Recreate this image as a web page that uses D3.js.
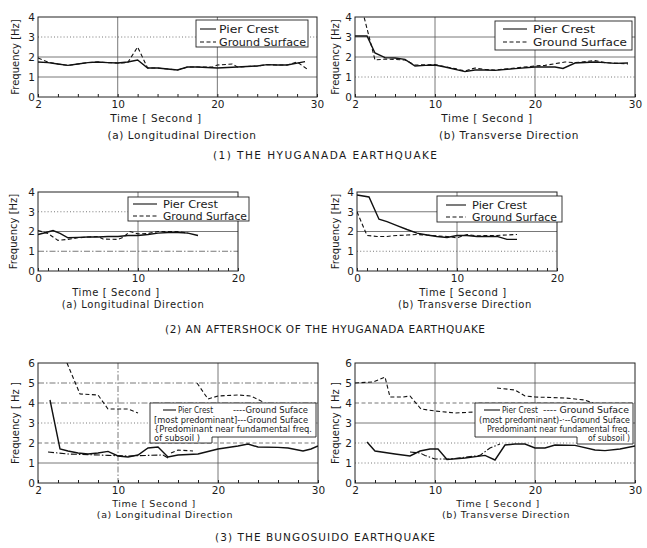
<!DOCTYPE html>
<html><head><meta charset="utf-8">
<script src="https://cdn.jsdelivr.net/npm/d3@7"></script>
<style>
body{margin:0;background:#fff}
svg{display:block}
text{font-family:"DejaVu Sans",sans-serif;fill:#1a1a1a}
</style>
</head><body>
<svg id="c" width="647" height="548"></svg>
<script>
// ---------------- DATA ----------------
const sectionTitles = ["(1) THE HYUGANADA EARTHQUAKE", "(2) AN AFTERSHOCK OF THE HYUGANADA EARTHQUAKE", "(3) THE BUNGOSUIDO EARTHQUAKE"];
const captions = ["(a) Longitudinal Direction", "(b) Transverse Direction"];
const yLabels = ["Frequency [Hz]", "Frequency [ Hz ]"];
const xLabel = "Time [ Second ]";
const seriesNames = ["Pier Crest", "Ground Surface"];

const ticks30 = [2, 10, 20, 30];
const ticks20 = [0, 10, 20];
const yTicks4 = [0, 1, 2, 3, 4];
const yTicks6 = [0, 1, 2, 3, 4, 5, 6];

// (1) Hyuganada — longitudinal
const hyuLongPier = [[2,1.75],[3,1.72],[4,1.65],[5,1.58],[6,1.65],[7,1.72],[8,1.75],[9,1.72],[10,1.7],[11,1.75],[12,1.85],[13,1.45],[14,1.45],[15,1.4],[16,1.35],[17,1.5],[18,1.5],[20,1.45],[22,1.5],[24,1.55],[25,1.62],[26,1.6],[27,1.6],[28.8,1.77]];
const hyuLongGround = [[2,1.95],[3,1.75],[4,1.65],[5,1.58],[6,1.65],[7,1.72],[8,1.75],[9,1.72],[10,1.7],[11,1.72],[12,2.5],[13,1.45],[14,1.45],[15,1.4],[16,1.35],[17,1.5],[18,1.5],[19.5,1.5],[20,1.6],[21.5,1.65],[22,1.5],[24,1.55],[25,1.62],[26,1.6],[27,1.6],[28,1.75],[29,1.4]];
// (1) Hyuganada — transverse
const hyuTransPier = [[2,3.05],[3.2,3.05],[4,2.2],[5,1.97],[6,1.95],[7,1.88],[8,1.55],[9,1.58],[10,1.6],[11,1.5],[13,1.27],[14,1.35],[15,1.35],[16,1.33],[18,1.42],[20,1.5],[22,1.5],[22.8,1.43],[24,1.7],[26,1.75],[27,1.72],[28,1.68],[29.3,1.7]];
const hyuTransGround = [[2.6,4.6],[4,1.85],[5,1.9],[6,1.88],[7,1.85],[8,1.6],[10,1.62],[12,1.42],[13,1.3],[14,1.45],[15,1.38],[16,1.35],[18,1.45],[20,1.55],[21,1.58],[23,1.75],[24,1.72],[26,1.82],[27,1.72],[29.3,1.65]];
// (2) Aftershock — longitudinal
const aftLongPier = [[0,1.85],[0.8,1.95],[1.5,2.05],[2.2,1.9],[3,1.68],[4,1.7],[5,1.72],[6,1.72],[7,1.75],[8,1.75],[9,1.8],[10,1.8],[11,1.85],[12,1.92],[13,1.95],[14,1.95],[15,1.92],[16,1.8]];
const aftLongGround = [[0,2.05],[1,1.9],[2,1.55],[3,1.6],[4,1.68],[5,1.72],[6,1.75],[6.5,1.62],[8,1.6],[8.5,1.7],[9.2,2.0],[10,1.88],[11,1.9],[12,2.0],[14,2.0],[15,1.92]];
// (2) Aftershock — transverse
const aftTransPier = [[0,3.85],[1.2,3.75],[2.2,2.62],[3,2.5],[4,2.3],[5,2.1],[6,1.92],[7,1.82],[8,1.75],[9,1.7],[10,1.8],[11,1.8],[12,1.75],[14,1.75],[15,1.6],[16,1.6]];
const aftTransGround = [[0,3.0],[1,1.8],[2,1.75],[3,1.75],[4,1.8],[5,1.82],[6,1.85],[7,1.82],[8,1.78],[9,1.75],[10,1.68],[11,1.85],[12,1.78],[13,1.8],[14,1.8],[16,1.85]];
// (3) Bungosuido — longitudinal (null = gap)
const bunLongPier = [[3.2,4.15],[4.2,1.7],[5,1.6],[6,1.5],[7,1.45],[8,1.5],[9,1.58],[10,1.35],[11,1.3],[12,1.4],[13,1.75],[14,1.8],[15,1.3],[16,1.4],[18,1.45],[20,1.7],[22,1.85],[23,1.95],[24,1.8],[26,1.78],[27,1.75],[28.5,1.6],[29.3,1.7],[30,1.85]];
const bunLongMost = [[4.9,6.0],[6.2,4.45],[8,4.4],[9,3.7],[11,3.7],[12,3.5],null,[15.3,1.5],[16,1.65],[17.5,1.6],null,[17.9,5.0],[19,4.2],[20,4.35],[22,4.4],[23.3,4.35],[24.5,4.05]];
const bunLongFund = [[3,1.55],[5,1.45],[7,1.42],[9,1.38],[11,1.35],[13,1.38],[14.5,1.4],[15,1.25]];
// (3) Bungosuido — transverse
const bunTransPier = [[3.2,2.05],[4,1.6],[6,1.45],[7.5,1.35],[8.5,1.6],[9.5,1.7],[10.3,1.7],[11.2,1.18],[13,1.25],[15,1.38],[16,1.15],[17,1.9],[18,1.95],[19,1.95],[20,1.75],[21,1.75],[22,1.9],[24,1.88],[26,1.65],[27,1.62],[28.5,1.7],[30,1.85]];
const bunTransMost = [[2,5.0],[3.8,5.05],[5,5.3],[5.5,4.3],[6.8,4.3],[7.5,4.35],[8.6,3.7],[10,3.6],[12,3.5],[14,3.55],null,[16.2,4.75],[18,4.65],[19,4.35],[20,4.3],[23,4.25],[25,4.15],[26,3.95]];
const bunTransFund = [[7.5,1.55],[8.5,1.5],[9,1.38],[10,1.2],[11.5,1.2],[14.5,1.38],[15.5,1.75],[16.5,1.95]];

const bunLegendLong = ["Pier Crest", "----Ground Suface", "[most predominant]---Ground Suface", "{Predominant near fundamental freq.", "of subsoil )"];
const bunLegendTrans = ["Pier Crest", "---- Ground Suface", "(most predominant)-·--Ground Suface", "Predominant near fundamental freq.", "of subsoil )"];

// ---------------- STYLES / LAYOUT ----------------
const dashes = {solid: null, dash: "4,2.5", dot: "1,2.2", dashdot: "6,2,1.5,2"};
const svg = d3.select("#c");

const panels = [
  {box:[38,317,17,97], xd:[2,30], yd:[0,4], xt:ticks30, yt:yTicks4, minor:2, yl:0,
   series:[{d:hyuLongPier,s:"solid"},{d:hyuLongGround,s:"dash"}],
   hg:[[1,"solid"],[2,"solid"],[3,"dot"]], vg:[[10,"solid"],[20,"solid"]],
   leg:{x:196,y:20,w:112,h:27,lx0:200,lx1:216,tx:219,tw:[60,87],r1:29,r2:42},
   ylx:15, xlc:156, capc:182, xly:122, capy:139, fs:10.5},
  {box:[355,635,17,97], xd:[2,30], yd:[0,4], xt:ticks30, yt:yTicks4, minor:2, yl:0,
   series:[{d:hyuTransPier,s:"solid"},{d:hyuTransGround,s:"dash"}],
   hg:[[1,"dot"],[2,"solid"],[3,"solid"]], vg:[[10,"solid"],[20,"solid"]],
   leg:{x:495,y:21,w:137,h:29,lx0:503,lx1:527,tx:533,tw:[62,94],r1:29,r2:42},
   ylx:335, xlc:487, capc:509, xly:122, capy:139, fs:10.5},
  {box:[38,238,192,271], xd:[0,20], yd:[0,4], xt:ticks20, yt:yTicks4, minor:1, yl:0,
   series:[{d:aftLongPier,s:"solid"},{d:aftLongGround,s:"dash"}],
   hg:[[1,"dashdot"],[2,"solid"],[3,"dot"]], vg:[[10,"solid"]],
   leg:{x:128,y:197,w:121,h:24,lx0:133,lx1:157,tx:163,tw:[55,84],r1:204,r2:216},
   ylx:13, xlc:116, capc:133, xly:296, capy:308, fs:10},
  {box:[357,557,192,271], xd:[0,20], yd:[0,4], xt:ticks20, yt:yTicks4, minor:1, yl:0,
   series:[{d:aftTransPier,s:"solid"},{d:aftTransGround,s:"dash"}],
   hg:[[1,"dot"],[2,"solid"],[3,"solid"]], vg:[[10,"solid"]],
   leg:{x:437,y:196,w:125,h:26,lx0:446,lx1:466,tx:472,tw:[55,85],r1:205,r2:217},
   ylx:335, xlc:463, capc:465, xly:296, capy:308, fs:10},
  {box:[38,318,363,483], xd:[2,30], yd:[0,6], xt:ticks30, yt:yTicks6, minor:2, yl:1,
   series:[{d:bunLongPier,s:"solid"},{d:bunLongMost,s:"dash"},{d:bunLongFund,s:"dashdot"}],
   hg:[[1,"solid"],[2,"dash"],[3,"dot"],[4,"dashdot"],[5,"dashdot"]], vg:[[10,"dashdot"],[20,"solid"]],
   big:{x0:150,x1:316,y0:403,y1:437,sx:212,sy:443,lines:bunLegendLong,
        l1:[163,176,178,215,233,235], ty:[413,423,432,441], tx:[154,154,154], tw:[35,75,154,158,46], anchor:"start"},
   ylx:15, xlc:154, capc:165, xly:507, capy:518, fs:9.5},
  {box:[355,635,363,483], xd:[2,30], yd:[0,6], xt:ticks30, yt:yTicks6, minor:2, yl:1,
   series:[{d:bunTransPier,s:"solid"},{d:bunTransMost,s:"dash"},{d:bunTransFund,s:"dashdot"}],
   hg:[[1,"dot"],[2,"dot"],[3,"solid"],[4,"dash"],[5,"solid"]], vg:[[10,"solid"],[20,"solid"]],
   big:{x0:475,x1:633,y0:403,y1:437,sx:577,sy:444,lines:bunLegendTrans,
        l1:[484,500,502,538,543,556], ty:[413,423,432,441], tx:[479,487,630], tw:[36,86,151,143,42], anchor:"end"},
   ylx:335, xlc:498, capc:506, xly:507, capy:518, fs:9.5}
];

panels.forEach((p, i) => {
  const [L, R, T, B] = p.box;
  const x = d3.scaleLinear().domain(p.xd).range([L, R]);
  const y = d3.scaleLinear().domain(p.yd).range([B, T]);
  const g = svg.append("g");
  const clipId = "clip" + i;
  svg.append("clipPath").attr("id", clipId).append("rect")
    .attr("x", L).attr("y", T).attr("width", R - L).attr("height", B - T);

  // grid
  p.hg.forEach(([v, s]) => g.append("line").attr("x1", L).attr("x2", R)
    .attr("y1", y(v)).attr("y2", y(v)).attr("stroke", "#555").attr("stroke-width", 0.8)
    .attr("stroke-dasharray", dashes[s]));
  p.vg.forEach(([v, s]) => g.append("line").attr("y1", T).attr("y2", B)
    .attr("x1", x(v)).attr("x2", x(v)).attr("stroke", "#555").attr("stroke-width", 0.8)
    .attr("stroke-dasharray", dashes[s]));

  // axes
  const xAxis = d3.axisBottom(x).tickValues(d3.range(p.xd[0], p.xd[1] + 0.001, p.minor))
    .tickSize(-3).tickFormat("");
  g.append("g").attr("transform", `translate(0,${B})`).call(xAxis)
    .call(a => a.select(".domain").remove())
    .call(a => a.selectAll("line").attr("stroke", "#222"));
  const xLab = d3.axisBottom(x).tickValues(p.xt).tickSize(0).tickPadding(4).tickFormat(d3.format("d"));
  g.append("g").attr("transform", `translate(0,${B})`).call(xLab)
    .call(a => a.select(".domain").remove())
    .call(a => a.selectAll("text").attr("font-size", 10.5).attr("font-family", "DejaVu Sans"));
  const yLab = d3.axisLeft(y).tickValues(p.yt).tickSize(0).tickPadding(3).tickFormat(d3.format("d"));
  g.append("g").attr("transform", `translate(${L},0)`).call(yLab)
    .call(a => a.select(".domain").remove())
    .call(a => a.selectAll("text").attr("font-size", 10.5).attr("font-family", "DejaVu Sans"));

  // frame
  g.append("rect").attr("x", L).attr("y", T).attr("width", R - L).attr("height", B - T)
    .attr("fill", "none").attr("stroke", "#222").attr("stroke-width", 1);

  // series
  const line = d3.line().defined(d => d !== null).x(d => x(d[0])).y(d => y(d[1]));
  p.series.forEach(s => g.append("path").attr("d", line(s.d)).attr("clip-path", `url(#${clipId})`)
    .attr("fill", "none").attr("stroke", "#111")
    .attr("stroke-width", s.s === "solid" ? 1.4 : 1.1)
    .attr("stroke-dasharray", dashes[s.s]));

  // legend
  if (p.leg) {
    const l = p.leg;
    g.append("rect").attr("x", l.x).attr("y", l.y).attr("width", l.w).attr("height", l.h)
      .attr("fill", "#fff").attr("stroke", "#222").attr("stroke-width", 0.9);
    [[l.r1, "solid", seriesNames[0], l.tw[0]], [l.r2, "dash", seriesNames[1], l.tw[1]]].forEach(([ry, s, name, tw]) => {
      g.append("line").attr("x1", l.lx0).attr("x2", l.lx1).attr("y1", ry).attr("y2", ry)
        .attr("stroke", "#111").attr("stroke-width", 1.1).attr("stroke-dasharray", dashes[s]);
      g.append("text").attr("x", l.tx).attr("y", ry + 4).attr("font-size", 10.5)
        .attr("textLength", tw).attr("lengthAdjust", "spacingAndGlyphs").text(name);
    });
  }
  if (p.big) {
    const b = p.big;
    g.append("path").attr("d", `M${b.x0},${b.y0}H${b.x1}V${b.y1}` +
      (b.anchor === "start" ? `H${b.sx}V${b.sy}H${b.x0}Z` : `V${b.sy}H${b.sx}V${b.y1}H${b.x0}Z`))
      .attr("fill", "#fff").attr("stroke", "#222").attr("stroke-width", 0.9);
    const fs = 8.3;
    const t = (x, y, str, w, anchor) => g.append("text").attr("x", x).attr("y", y)
      .attr("text-anchor", anchor || "start").attr("font-size", fs)
      .attr("textLength", w).attr("lengthAdjust", "spacingAndGlyphs").text(str);
    g.append("line").attr("x1", b.l1[0]).attr("x2", b.l1[1]).attr("y1", b.ty[0] - 3).attr("y2", b.ty[0] - 3)
      .attr("stroke", "#111").attr("stroke-width", 1.1);
    t(b.l1[2], b.ty[0], b.lines[0], b.tw[0]);
    t(b.l1[4], b.ty[0], b.lines[1], b.tw[1]);
    t(b.tx[0], b.ty[1], b.lines[2], b.tw[2]);
    t(b.tx[1], b.ty[2], b.lines[3], b.tw[3]);
    t(b.tx[2], b.ty[3], b.lines[4], b.tw[4], b.anchor);
  }

  // labels
  g.append("text").attr("transform", `translate(${p.ylx},${(T + B) / 2}) rotate(-90)`)
    .attr("text-anchor", "middle").attr("dy", "0.35em").attr("font-size", 10)
    .text(yLabels[p.yl]);
  g.append("text").attr("x", p.xlc).attr("y", p.xly).attr("text-anchor", "middle")
    .attr("font-size", p.fs).attr("letter-spacing", 0.6).text(xLabel);
  g.append("text").attr("x", p.capc).attr("y", p.capy).attr("text-anchor", "middle")
    .attr("font-size", p.fs).attr("letter-spacing", 0.6).text(captions[i % 2]);
});

const titleY = [159, 333, 541];
const titleX = [[213,224],[165,320],[215,220]];
sectionTitles.forEach((t, i) => svg.append("text").attr("x", titleX[i][0]).attr("y", titleY[i])
  .attr("font-size", 10.5).attr("textLength", titleX[i][1]).attr("lengthAdjust", "spacing").text(t));
</script>
</body></html>
